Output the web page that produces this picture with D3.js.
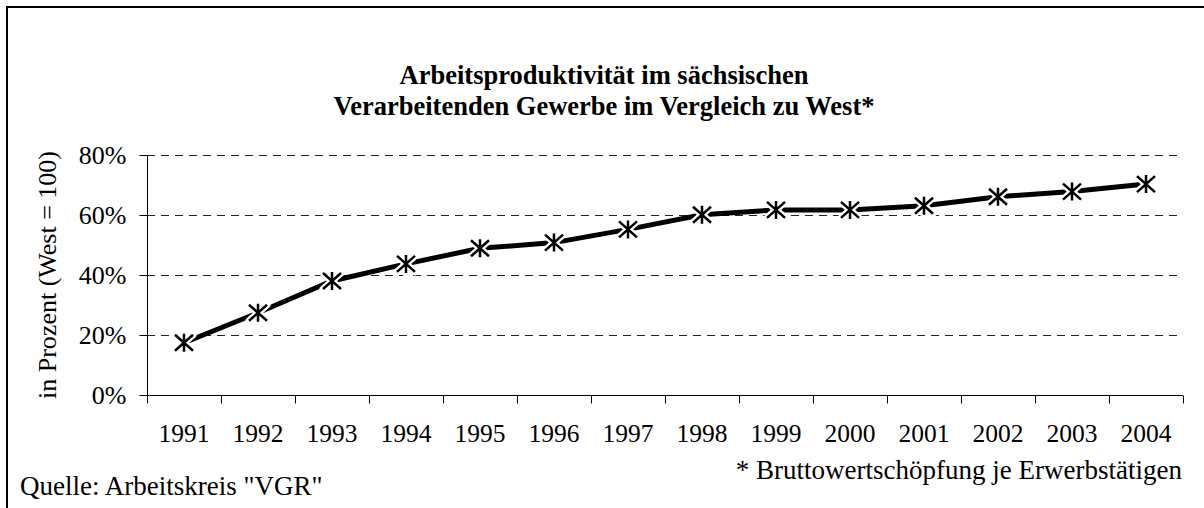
<!DOCTYPE html>
<html>
<head>
<meta charset="utf-8">
<script src="https://cdn.jsdelivr.net/npm/d3@7"></script>
<style>
  body { margin: 0; background: #fff; }
  text { font-family: "Liberation Serif", "Times New Roman", serif; fill: #000; }
</style>
</head>
<body>
<div id="chart"></div>
<script>
// data
var years = ["1991","1992","1993","1994","1995","1996","1997","1998","1999","2000","2001","2002","2003","2004"];
var produktivitaet = [17.4, 27.4, 38.0, 43.7, 48.9, 50.8, 55.2, 60.1, 61.7, 61.7, 63.1, 66.1, 67.8, 70.3];
var yTicks = [0, 20, 40, 60, 80];
var titleLines = ["Arbeitsproduktivität im sächsischen", "Verarbeitenden Gewerbe im Vergleich zu West*"];

var W = 1204, H = 508;
var margin = {top: 155, right: 21, bottom: 113, left: 147},
    width = W - margin.left - margin.right,
    height = H - margin.top - margin.bottom;

var svg = d3.select("#chart").append("svg")
    .attr("width", W)
    .attr("height", H);

// outer frame (only left and top are inside the picture)
svg.append("rect")
  .attr("x", 7).attr("y", 7)
  .attr("width", W + 20).attr("height", H + 20)
  .style("fill", "none")
  .style("stroke", "#000")
  .style("stroke-width", 2);

// title
svg.append("g").selectAll("text")
  .data(titleLines)
  .enter()
  .append("text")
    .attr("x", 604)
    .attr("y", function(d, i) { return 84 + i * 31; })
    .attr("text-anchor", "middle")
    .style("font-size", "26.5px")
    .style("font-weight", "bold")
    .text(function(d) { return d; });

var g = svg.append("g")
    .attr("transform", "translate(" + margin.left + "," + margin.top + ")");

var x = d3.scaleBand()
  .domain(years)
  .range([0, width]);

var y = d3.scaleLinear()
  .domain([0, 80])
  .range([height, 0]);

// dashed gridlines
g.append("g").selectAll("line")
  .data(yTicks.filter(function(d) { return d > 0; }))
  .enter()
  .append("line")
    .attr("x1", 0)
    .attr("x2", width)
    .attr("y1", function(d) { return Math.round(y(d)) + 0.5; })
    .attr("y2", function(d) { return Math.round(y(d)) + 0.5; })
    .style("stroke", "#222")
    .style("stroke-width", 1)
    .style("stroke-dasharray", "8,6");

// y axis
var yAxis = g.append("g")
  .attr("transform", "translate(0.5,0)")
  .call(d3.axisLeft(y).tickValues(yTicks).tickSize(8).tickPadding(13)
        .tickFormat(function(d) { return d + "%"; }));
yAxis.select(".domain").attr("d", "M0," + y(80) + "V" + y(0));
yAxis.selectAll("text")
  .style("font-family", "'Liberation Serif', 'Times New Roman', serif")
  .style("font-size", "26px");

// x axis
var xAxis = g.append("g")
  .attr("transform", "translate(0," + (height + 0.5) + ")")
  .call(d3.axisBottom(x).tickSize(0).tickPadding(28));
xAxis.select(".domain").attr("d", "M0,0H" + width);
xAxis.selectAll("text")
  .style("font-family", "'Liberation Serif', 'Times New Roman', serif")
  .style("font-size", "25.5px");
// ticks between categories
xAxis.append("g").selectAll("line")
  .data(years.concat(["end"]))
  .enter()
  .append("line")
    .attr("x1", function(d, i) { return Math.round(i * x.step()) + 0.5; })
    .attr("x2", function(d, i) { return Math.round(i * x.step()) + 0.5; })
    .attr("y1", 0)
    .attr("y2", 8)
    .style("stroke", "#000");

// y axis title
svg.append("text")
  .attr("transform", "translate(56,275) rotate(-90)")
  .attr("text-anchor", "middle")
  .style("font-size", "26px")
  .text("in Prozent (West = 100)");

// line
var line = d3.line()
  .x(function(d, i) { return x(years[i]) + x.bandwidth() / 2; })
  .y(function(d) { return y(d); });

g.append("path")
  .datum(produktivitaet)
  .attr("d", line)
  .style("fill", "none")
  .style("stroke", "#000")
  .style("stroke-width", 5);

// asterisk markers
var star = "M-9,-8L9,8M-9,8L9,-8M0,-9V9";
var marks = g.append("g").selectAll("g")
  .data(produktivitaet)
  .enter()
  .append("g")
    .attr("transform", function(d, i) {
      return "translate(" + (x(years[i]) + x.bandwidth() / 2) + "," + y(d) + ")";
    });
marks.append("path")
  .attr("d", star)
  .style("stroke", "#fff")
  .style("stroke-width", 7)
  .style("stroke-linecap", "round");
marks.append("path")
  .attr("d", star)
  .style("stroke", "#000")
  .style("stroke-width", 2.5);

// footnotes
svg.append("text")
  .attr("x", 20)
  .attr("y", 495)
  .style("font-size", "27px")
  .text("Quelle: Arbeitskreis \"VGR\"");

svg.append("text")
  .attr("x", 1182)
  .attr("y", 479)
  .attr("text-anchor", "end")
  .style("font-size", "27px")
  .text("* Bruttowertschöpfung je Erwerbstätigen");
</script>
</body>
</html>
